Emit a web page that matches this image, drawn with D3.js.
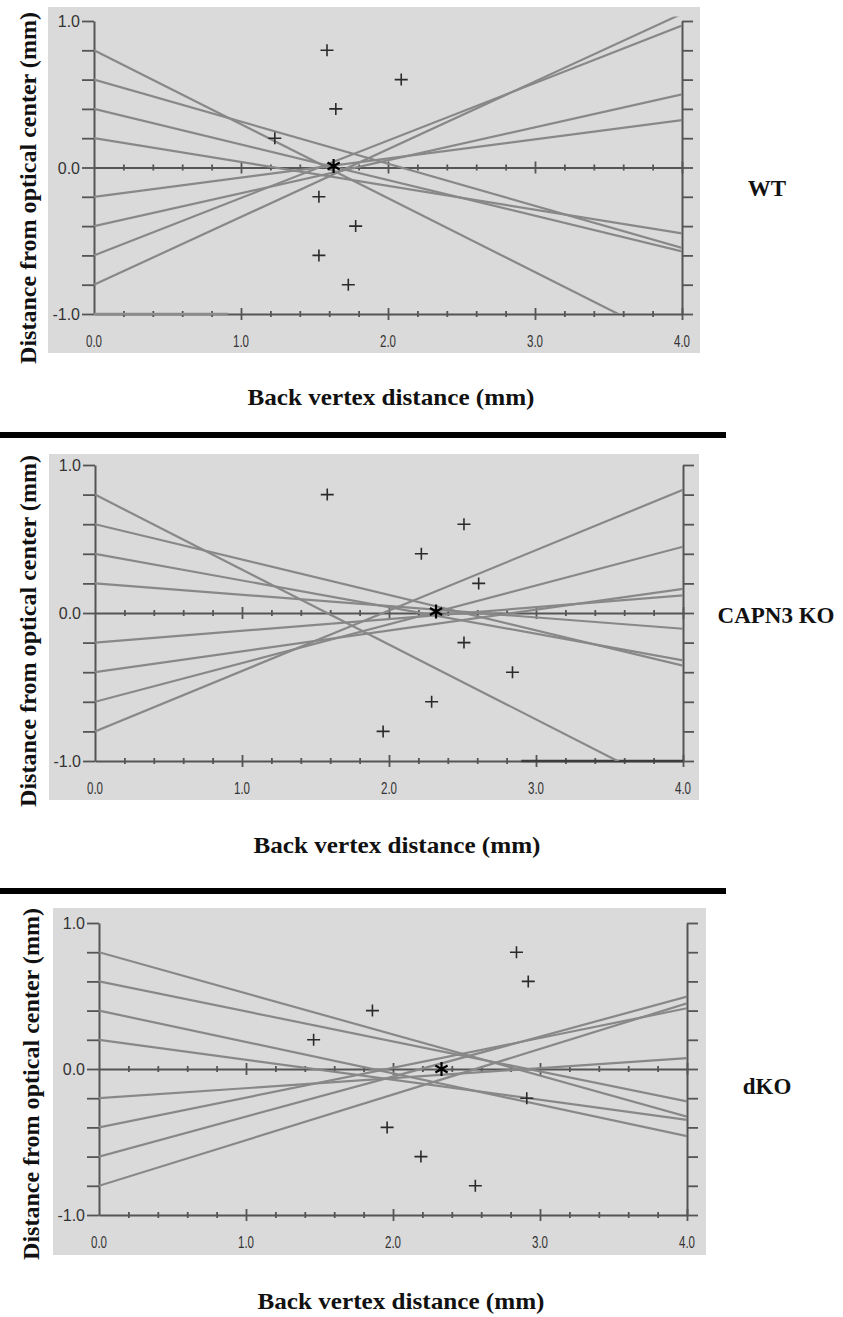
<!DOCTYPE html>
<html>
<head>
<meta charset="utf-8">
<script src="https://cdn.jsdelivr.net/npm/d3@7"></script>
<style>
	body { margin: 0; background: #fff; }
	svg { display: block; }
</style>
</head>
<body>
<div id="dataviz"></div>
<script>
// dati
var panel_names = ["WT", "CAPN3 KO", "dKO"];
// altezza di partenza dei raggi (mm dal centro ottico)
var ray_heights = [0.8, 0.6, 0.4, 0.2, -0.2, -0.4, -0.6, -0.8];
// punto dove ogni raggio taglia l'asse (le croci)
var wt_cross = [1.585, 2.09, 1.645, 1.23, 1.53, 1.78, 1.53, 1.73];
var capn3_cross = [1.58, 2.51, 2.22, 2.61, 2.51, 2.84, 2.29, 1.96];
var dko_cross = [2.84, 2.92, 1.86, 1.46, 2.91, 1.96, 2.19, 2.56];
// fuoco medio (asterisco)
var focus_x = [1.63, 2.32, 2.33];
var focus_y = [0.01, 0.01, 0.0];
// pezzi di linea sopra l'asse in basso
var floor_lines = [[0, 0.91], [2.9, 4.0], null];
var floor_colors = ["#8d8d8d", "#3c3c3c", null];
var x_ticks = [0, 1, 2, 3, 4];
var x_tick_labels = ["0.0", "1.0", "2.0", "3.0", "4.0"];
var y_ticks = [1, 0, -1];
var y_tick_labels = ["1.0", "0.0", "-1.0"];

var crosses = [wt_cross, capn3_cross, dko_cross];

// posizione dei tre pannelli
var layout = [
	{bg: [48, 7, 652, 346], x: [94, 682], y: [21, 314], title_y: 188, title_x: 36, xlab: [391, 397], name: [767, 188]},
	{bg: [49, 454, 650, 346], x: [95, 683], y: [465, 761], title_y: 631, title_x: 36, xlab: [397, 845], name: [776, 615]},
	{bg: [53, 908, 653, 347], x: [99, 687], y: [923, 1215], title_y: 1084, title_x: 39, xlab: [401, 1301], name: [767, 1086]}
];
var separators = [435, 891];

var width = 843;
var height = 1317;

var svg = d3.select("#dataviz").append("svg")
	.attr("width", width)
	.attr("height", height);

// linee nere di separazione
svg.selectAll(".sep")
	.data(separators)
	.enter()
	.append("rect")
	.attr("class", "sep")
	.attr("x", 0)
	.attr("y", function(d) { return d - 3; })
	.attr("width", 726)
	.attr("height", 6)
	.style("fill", "#000");

function draw_panel(i) {
	var L = layout[i];
	var g = svg.append("g");

	var x = d3.scaleLinear().domain([0, 4]).range(L.x);
	var y = d3.scaleLinear().domain([1, -1]).range(L.y);

	// sfondo grigio
	g.append("rect")
		.attr("x", L.bg[0]).attr("y", L.bg[1])
		.attr("width", L.bg[2]).attr("height", L.bg[3])
		.style("fill", "#dadada");

	var axis_color = "#555";

	// assi verticali sinistra e destra
	var left = d3.axisLeft(y).tickValues(d3.range(-1, 1.01, 0.2)).tickSize(12).tickFormat("").tickSizeOuter(0);
	var right = d3.axisRight(y).tickValues(d3.range(-1, 1.01, 0.2)).tickSize(11).tickFormat("").tickSizeOuter(0);
	g.append("g").attr("transform", "translate(" + x(0) + ",0)").call(left);
	g.append("g").attr("transform", "translate(" + x(4) + ",0)").call(right);

	// assi orizzontali a 0 e a -1, tacche che attraversano
	[0, -1].forEach(function(v) {
		var minor = d3.axisBottom(x).tickValues(d3.range(0.2, 4, 0.2).filter(function(t) {
			return Math.abs(t - Math.round(t)) > 0.01;
		})).tickSize(3).tickFormat("").tickSizeOuter(0);
		var major = d3.axisBottom(x).tickValues([1, 2, 3, 4]).tickSize(6).tickFormat("").tickSizeOuter(0);
		var a1 = g.append("g").attr("transform", "translate(0," + y(v) + ")").call(minor);
		var a2 = g.append("g").attr("transform", "translate(0," + y(v) + ")").call(major);
		a1.selectAll(".tick line").attr("y1", -3);
		a2.selectAll(".tick line").attr("y1", -6);
		a2.select(".domain").remove();
	});

	g.selectAll(".domain").style("stroke", axis_color).style("stroke-width", 2);
	g.selectAll(".tick line").style("stroke", axis_color).style("stroke-width", 1.8);

	// segmento sopra l'asse in basso
	if (floor_lines[i]) {
		g.append("line")
			.attr("x1", x(floor_lines[i][0])).attr("x2", x(floor_lines[i][1]))
			.attr("y1", y(-1)).attr("y2", y(-1))
			.style("stroke", floor_colors[i])
			.style("stroke-width", 2.5);
	}

	// etichette y
	g.selectAll(".ylab")
		.data(y_ticks)
		.enter()
		.append("text")
		.attr("x", x(0) - 14)
		.attr("y", function(d) { return y(d) + 6; })
		.attr("text-anchor", "end")
		.style("font-family", "Liberation Sans, Arial, sans-serif")
		.style("font-size", "16px")
		.style("fill", "#333")
		.text(function(d, j) { return y_tick_labels[j]; });

	// etichette x (strette)
	g.selectAll(".xlab")
		.data(x_ticks)
		.enter()
		.append("text")
		.attr("transform", function(d) {
			return "translate(" + x(d) + "," + (y(-1) + 33) + ") scale(0.68,1)";
		})
		.attr("text-anchor", "middle")
		.style("font-family", "Liberation Sans, Arial, sans-serif")
		.style("font-size", "17px")
		.style("fill", "#333")
		.text(function(d, j) { return x_tick_labels[j]; });

	// clip dei raggi
	var clip_id = "clip" + i;
	g.append("clipPath").attr("id", clip_id)
		.append("rect")
		.attr("x", x(0)).attr("y", y(1.03))
		.attr("width", x(4) - x(0))
		.attr("height", y(-1) - y(1.03));

	// raggi: partono da (0,h) e tagliano l'asse alla croce
	var rays = ray_heights.map(function(h, j) {
		var cx = crosses[i][j];
		return [[0, h], [4, h * (1 - 4 / cx)]];
	});

	var line = d3.line()
		.x(function(d) { return x(d[0]); })
		.y(function(d) { return y(d[1]); });

	g.append("g")
		.attr("clip-path", "url(#" + clip_id + ")")
		.selectAll("path")
		.data(rays)
		.enter()
		.append("path")
		.attr("d", line)
		.style("fill", "none")
		.style("stroke", "#888")
		.style("stroke-width", 2.2);

	// croci
	g.selectAll(".cross")
		.data(ray_heights)
		.enter()
		.append("path")
		.attr("transform", function(d, j) {
			return "translate(" + x(crosses[i][j]) + "," + y(d) + ")";
		})
		.attr("d", "M-6.5,0H6.5M0,-6V6")
		.style("stroke", "#2a2a2a")
		.style("stroke-width", 1.6)
		.style("fill", "none");

	// asterisco
	g.append("path")
		.attr("transform", "translate(" + x(focus_x[i]) + "," + y(focus_y[i]) + ")")
		.attr("d", "M0,-7V7M-6.1,-3.5L6.1,3.5M-6.1,3.5L6.1,-3.5")
		.style("stroke", "#000")
		.style("stroke-width", 2.2)
		.style("fill", "none");

	// titoli assi
	g.append("text")
		.attr("transform", "translate(" + L.title_x + "," + L.title_y + ") rotate(-90)")
		.attr("text-anchor", "middle")
		.attr("textLength", 352)
		.attr("lengthAdjust", "spacingAndGlyphs")
		.style("font-family", "Liberation Serif, Times New Roman, serif")
		.style("font-weight", "bold")
		.style("font-size", "23px")
		.style("fill", "#111")
		.text("Distance from optical center (mm)");

	g.append("text")
		.attr("x", L.xlab[0])
		.attr("y", L.xlab[1] + 8)
		.attr("text-anchor", "middle")
		.attr("textLength", 287)
		.attr("lengthAdjust", "spacingAndGlyphs")
		.style("font-family", "Liberation Serif, Times New Roman, serif")
		.style("font-weight", "bold")
		.style("font-size", "24px")
		.style("fill", "#111")
		.text("Back vertex distance (mm)");

	// nome del gruppo
	g.append("text")
		.attr("x", L.name[0])
		.attr("y", L.name[1] + 8)
		.attr("text-anchor", "middle")
		.style("font-family", "Liberation Serif, Times New Roman, serif")
		.style("font-weight", "bold")
		.style("font-size", "23px")
		.style("fill", "#111")
		.text(panel_names[i]);
}

for (var i = 0; i < panel_names.length; i++) {
	draw_panel(i);
}
</script>
</body>
</html>
